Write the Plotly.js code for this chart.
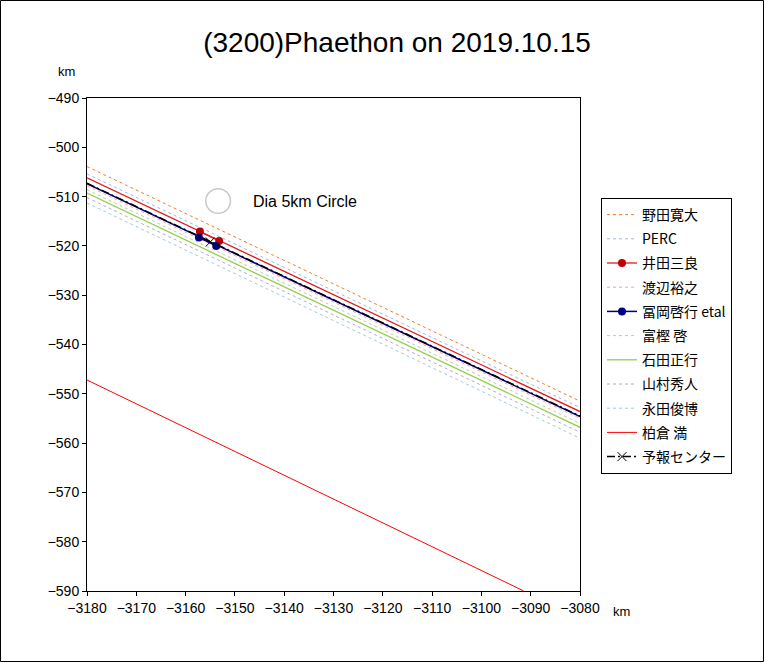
<!DOCTYPE html>
<html>
<head>
<meta charset="utf-8">
<script src="https://cdn.plot.ly/plotly-3.0.1.min.js"></script>
<style>html,body{margin:0;padding:0;background:#fff;}#chart{width:764px;height:662px;}</style>
</head>
<body>
<div id="chart"></div>
<script>
// ---- data (km) ----
const edgeX = [-3180, -3080];
const nodaY = [-503.9, -551.5];
const percY = [-505.4, -552.8];
const idaY = [-506.2, -553.6];
const idaPtsX = [-3157.1, -3153.2];
const idaPtsY = [-517.1, -519.0];
const watanabeY = [-507.8, -555.0];
const tomiokaY = [-507.4, -554.6];
const tomiokaPtsX = [-3157.3, -3153.8];
const tomiokaPtsY = [-518.3, -520.0];
const togashiY = [-508.6, -556.0];
const ishidaY = [-509.3, -556.8];
const yamamuraY = [-510.2, -557.8];
const nagataY = [-511.3, -559.0];
const kashiwakuraX = [-3180, -3091.4];
const kashiwakuraY = [-547.2, -590.0];
const centerLineY = [-507.3, -554.5];
const centerPtX = [-3155.0];
const centerPtY = [-519.2];
const circleCenter = [-3153.4, -510.9];
const circleDia = 5;
const xTicks = [-3180,-3170,-3160,-3150,-3140,-3130,-3120,-3110,-3100,-3090,-3080];
const yTicks = [-490,-500,-510,-520,-530,-540,-550,-560,-570,-580,-590];

const W = 764, H = 662;
const mL = 87, mR = 184, mT = 98, mB = 71;
const pw = W - mL - mR, ph = H - mT - mB;

const dash = '3px,3px';
let g = 0;
function line(name, x, y, color, d, width) {
  g++;
  return {type:'scatter', mode:'lines', name:name, x:x, y:y, legendgroup:'g'+g,
    line:{color:color, width:width||1, dash:d||'solid'}};
}
const traces = [];
traces.push(line('野田寛大', edgeX, nodaY, '#ED7D31', dash));
traces.push(line('PERC', edgeX, percY, '#9DB9DE', dash));
g++;
traces.push({type:'scatter', mode:'lines', x:edgeX, y:idaY, legendgroup:'g'+g, showlegend:false,
  line:{color:'#E31A1C', width:1.3}, hoverinfo:'skip'});
traces.push({type:'scatter', mode:'lines+markers', name:'井田三良', x:idaPtsX, y:idaPtsY, legendgroup:'g'+g,
  line:{color:'#E31A1C', width:1.3}, marker:{color:'#C00000', size:8}});
traces.push(line('渡辺裕之', edgeX, watanabeY, '#F4A3A3', dash));
g++;
traces.push({type:'scatter', mode:'lines', x:edgeX, y:tomiokaY, legendgroup:'g'+g, showlegend:false,
  line:{color:'#000080', width:1.5}, hoverinfo:'skip'});
traces.push({type:'scatter', mode:'lines+markers', name:'冨岡啓行 etal', x:tomiokaPtsX, y:tomiokaPtsY, legendgroup:'g'+g,
  line:{color:'#000080', width:1.5}, marker:{color:'#000080', size:8}});
traces.push(line('富樫 啓', edgeX, togashiY, '#C4CC99', dash));
traces.push(line('石田正行', edgeX, ishidaY, '#92D050', 'solid', 1.3));
traces.push(line('山村秀人', edgeX, yamamuraY, '#B4A7D6', dash));
traces.push(line('永田俊博', edgeX, nagataY, '#9FCBDD', dash));
traces.push(line('柏倉 満', kashiwakuraX, kashiwakuraY, '#FF0000', 'solid', 1));
g++;
traces.push({type:'scatter', mode:'lines', x:edgeX, y:centerLineY, legendgroup:'g'+g, showlegend:false,
  line:{color:'#000000', width:1.5, dash:'8px,3px,2px,3px'}, hoverinfo:'skip'});
traces.push({type:'scatter', mode:'lines+markers', name:'予報センター', x:centerPtX, y:centerPtY, legendgroup:'g'+g,
  line:{color:'#000000', width:1.5, dash:'8px,3px,2px,3px'}, marker:{color:'#000000', size:9, symbol:'x-thin-open', line:{width:1, color:'#000'}}});

const r = circleDia / 2;
const layout = {
  width: W, height: H,
  margin: {l:mL, r:mR, t:mT, b:mB, pad:0},
  paper_bgcolor:'#fff', plot_bgcolor:'#fff',
  font: {family:'Liberation Sans, Arial, Noto Sans CJK JP, sans-serif', size:12, color:'#000'},
  title: {text:'(3200)Phaethon on 2019.10.15', x:397/W, xref:'container', y:1-42/H, yref:'container',
    xanchor:'center', yanchor:'middle', font:{size:28, color:'#000'}},
  showlegend:true,
  legend: {x:(601-mL)/pw, y:(H-mB-198)/ph, xanchor:'left', yanchor:'top',
    bordercolor:'#000', borderwidth:1, bgcolor:'#fff', traceorder:'grouped', tracegroupgap:3,
    font:{family:'Noto Sans CJK JP, Liberation Sans, sans-serif', size:14, color:'#000'}},
  xaxis: {range:[edgeX[0], edgeX[1]], tickvals:xTicks, ticks:'outside', ticklen:4, tickcolor:'#000',
    showgrid:false, zeroline:false, showline:true, linecolor:'#000', linewidth:1, mirror:true,
    tickfont:{size:14}},
  yaxis: {range:[yTicks[yTicks.length-1], yTicks[0]], tickvals:yTicks, ticks:'outside', ticklen:4, tickcolor:'#000',
    showgrid:false, zeroline:false, showline:true, linecolor:'#000', linewidth:1, mirror:true,
    tickfont:{size:14}},
  shapes: [
    {type:'circle', xref:'x', yref:'y', x0:circleCenter[0]-r, x1:circleCenter[0]+r,
      y0:circleCenter[1]-r, y1:circleCenter[1]+r, line:{color:'#C8C8C8', width:1.5}},
    {type:'rect', xref:'paper', yref:'paper', x0:(0.5-mL)/pw, x1:(W-0.5-mL)/pw,
      y0:-(mB-0.5)/ph, y1:(ph+mT-0.5)/ph, line:{color:'#000', width:1}}
  ],
  annotations: [
    {text:'Dia 5km Circle', xref:'x', yref:'y', x:circleCenter[0]+6.6, y:circleCenter[1], xanchor:'left', yanchor:'middle',
      showarrow:false, font:{size:16}},
    {text:'km', xref:'paper', yref:'paper', x:(66-mL)/pw, y:(H-mB-72)/ph, xanchor:'center', yanchor:'middle', showarrow:false, font:{size:13}},
    {text:'km', xref:'paper', yref:'paper', x:(621-mL)/pw, y:(H-mB-611)/ph, xanchor:'center', yanchor:'middle', showarrow:false, font:{size:13}}
  ]
};
Plotly.newPlot('chart', traces, layout, {displayModeBar:false, staticPlot:true});
</script>
</body>
</html>
